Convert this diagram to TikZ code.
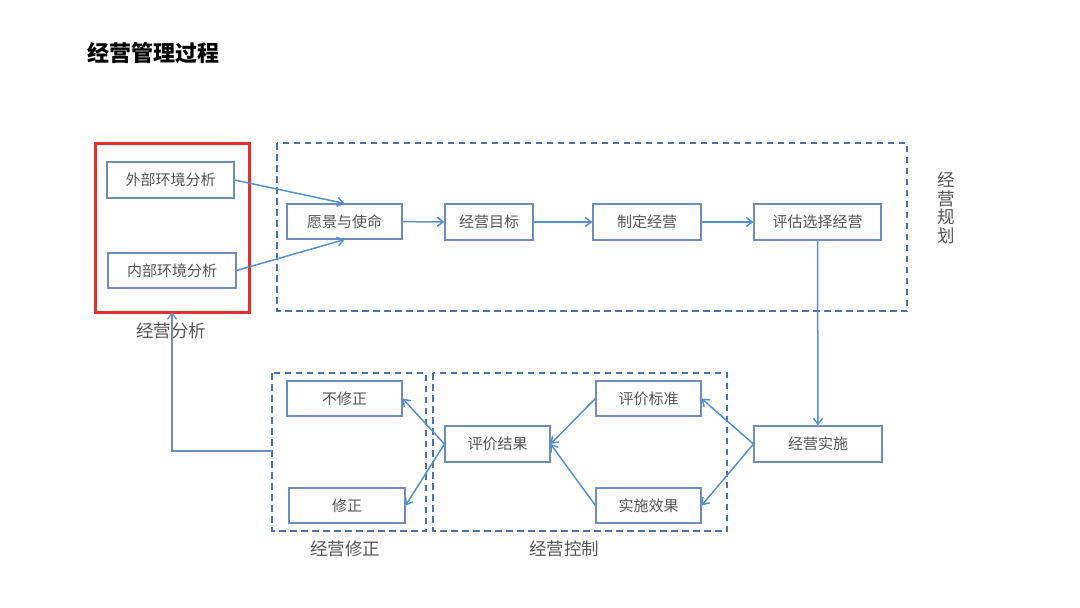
\documentclass[tikz,border=0pt]{standalone}
\usepackage{fontspec}
\newfontfamily\cjk{Noto Sans CJK SC}
\usetikzlibrary{arrows.meta}
\definecolor{boxline}{RGB}{110,140,190}
\definecolor{arrowc}{RGB}{84,145,208}
\definecolor{dashc}{RGB}{79,113,168}
\definecolor{txt}{RGB}{85,85,85}
\definecolor{redc}{RGB}{226,48,48}
\begin{document}
\begin{tikzpicture}[x=1pt,y=-1pt,
  stepbox/.style={draw=boxline,line width=1.1pt,fill=white,inner sep=0pt,minimum height=35pt,
     font=\cjk\fontsize{15}{15}\selectfont,text=txt},
  grp/.style={draw=dashc,line width=1.5pt,dash pattern=on 6.5pt off 4.5pt},
  arr/.style={draw=arrowc,line width=1.5pt,-{Straight Barb[length=6pt,width=9pt]}},
  lbl/.style={font=\cjk\fontsize{17.5}{18.5}\selectfont,text=txt,inner sep=0pt}]
\useasboundingbox (0,0) rectangle (1080,608);
% title
\node[anchor=west,inner sep=0pt,font=\cjk\bfseries\fontsize{22}{22}\selectfont] (title) at (87,53) {经营管理过程};
% groups
\draw[draw=redc,line width=3pt] (95,143) rectangle (249,312);
\coordinate (redS) at (172,312);
\draw[grp] (277,143) rectangle (907,311);
\draw[grp] (272,373) rectangle (426,531);
\draw[grp] (433,373) rectangle (727,531);
\coordinate (fixW) at (272,451);
% labels
\node[lbl] (l1) at (171,331) {经营分析};
\node[lbl,align=center] (l2) at (946,208) {经\\营\\规\\划};
\node[lbl] (l3) at (345,549) {经营修正};
\node[lbl] (l4) at (564,549) {经营控制};
% nodes
\node[stepbox,minimum width=127pt,minimum height=36pt] (ext) at (170.5,180) {外部环境分析};
\node[stepbox,minimum width=128pt] (int) at (172,270.5) {内部环境分析};
\node[stepbox,minimum width=115pt] (vis) at (344.5,221.5) {愿景与使命};
\node[stepbox,minimum width=88pt,minimum height=36pt] (goal) at (489,222) {经营目标};
\node[stepbox,minimum width=108pt,minimum height=36pt] (make) at (647,222) {制定经营};
\node[stepbox,minimum width=127pt,minimum height=36pt] (eval) at (817.5,222) {评估选择经营};
\node[stepbox,minimum width=128pt,minimum height=36pt] (impl) at (818,444) {经营实施};
\node[stepbox,minimum width=105pt] (std) at (648.5,398.5) {评价标准};
\node[stepbox,minimum width=105pt] (eff) at (648.5,505.5) {实施效果};
\node[stepbox,minimum width=105pt,minimum height=36pt] (res) at (497.5,444) {评价结果};
\node[stepbox,minimum width=115pt] (nofix) at (344.5,398.5) {不修正};
\node[stepbox,minimum width=116pt] (fix) at (347,505.5) {修正};
% connectors
\draw[arr] (ext.east) -- (vis.north);
\draw[arr] (int.east) -- (vis.south);
\draw[arr] (vis) -- (goal);
\draw[arr] (goal) -- (make);
\draw[arr] (make) -- (eval);
\draw[arr] (eval.south) -- (impl.north);
\draw[arr] (impl.west) -- (std.east);
\draw[arr] (impl.west) -- (eff.east);
\draw[arr] (std.west) -- (res.east);
\draw[arr] (eff.west) -- (res.east);
\draw[arr] (res.west) -- (nofix.east);
\draw[arr] (res.west) -- (fix.east);
\draw[draw=boxline,line width=1.4pt,-{Straight Barb[length=6pt,width=9pt]}] (fixW) -- (172,451) -- (redS);
\end{tikzpicture}
\end{document}
